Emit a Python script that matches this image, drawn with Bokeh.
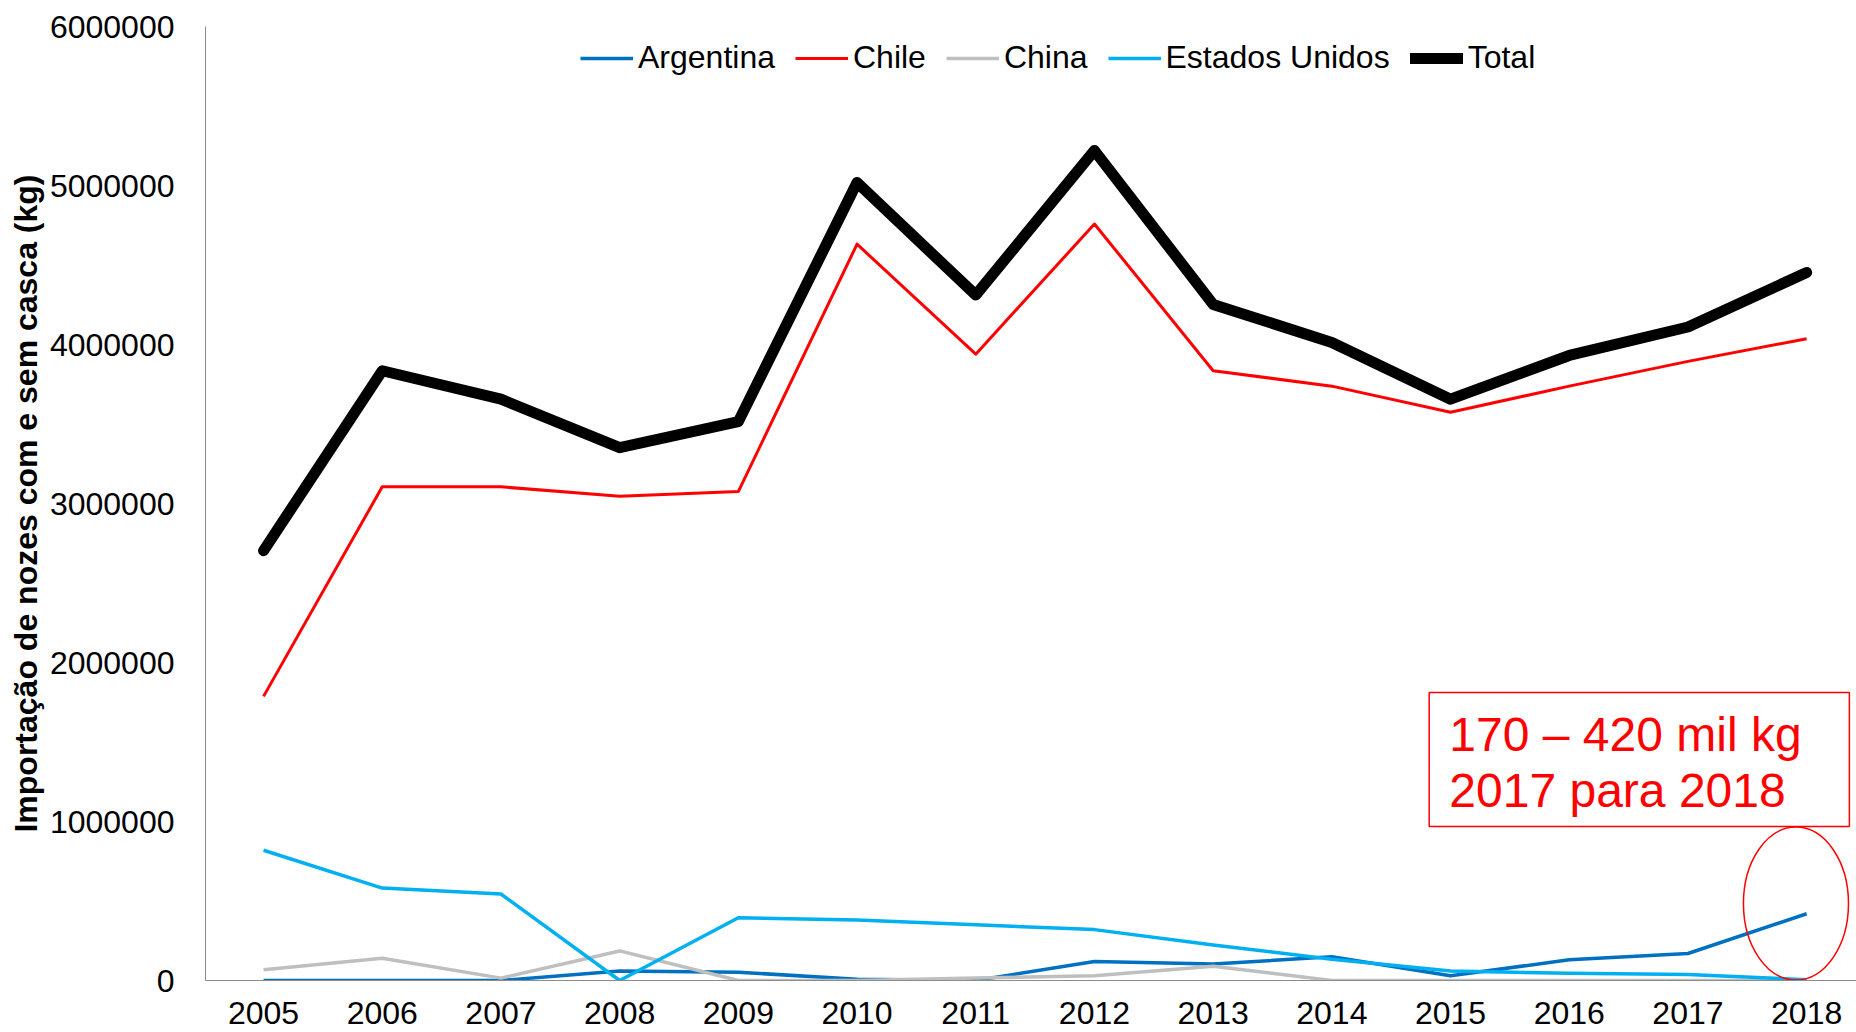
from bokeh.plotting import figure
from bokeh.models import (ColumnDataSource, Legend, LegendItem, FixedTicker,
                          BasicTickFormatter, Range1d, BoxAnnotation)
from bokeh.core.properties import value
from bokeh.embed import file_html
from bokeh.resources import INLINE

years = [2005, 2006, 2007, 2008, 2009, 2010, 2011, 2012, 2013, 2014, 2015, 2016, 2017, 2018]

argentina = [0, 0, 0, 60000, 52000, 8000, 0, 120000, 104000, 149000, 30000, 130000, 170000, 420000]
chile = [1787000, 3105000, 3105000, 3045000, 3075000, 4631000, 3939000, 4758000,
         3835000, 3738000, 3574000, 3738000, 3894000, 4036000]
china = [67000, 140000, 15000, 186000, 0, 0, 15000, 30000, 90000, 0, 0, 0, 0, 0]
estados_unidos = [819000, 581000, 544000, 0, 395000, 380000, 350000, 320000,
                  223000, 134000, 60000, 45000, 37000, 5000]
total = [2703000, 3835000, 3656000, 3351000, 3515000, 5019000, 4311000, 5220000,
         4252000, 4013000, 3656000, 3931000, 4110000, 4453000]

series_names = ["Argentina", "Chile", "China", "Estados Unidos", "Total"]
series_values = [argentina, chile, china, estados_unidos, total]
series_colors = ["#0070C0", "#FF0000", "#BFBFBF", "#00B0F0", "#000000"]
series_widths = [3.5, 3, 3.5, 3.5, 11]

y_ticks = [0, 1000000, 2000000, 3000000, 4000000, 5000000, 6000000]

annotation_lines = ["170 \u2013 420 mil kg", "2017 para 2018"]
annotation_text_x = [2014.99, 2014.99]
annotation_text_y = [1547000, 1195000]
box_left, box_right, box_bottom, box_top = 2014.82, 2018.36, 969000, 1811000
ellipse_x, ellipse_y, ellipse_w, ellipse_h = 2017.91, 484000, 0.885, 962000

FONT = "Liberation Sans"

p = figure(width=1856, height=1030, output_backend="svg", toolbar_location=None,
           x_range=Range1d(2004.511, 2018.42), y_range=Range1d(0, 6000000),
           min_border_left=205, min_border_right=0, min_border_top=26,
           min_border_bottom=50)
p.outline_line_color = None
p.xgrid.visible = False
p.ygrid.visible = False
p.background_fill_color = "white"
p.border_fill_color = "white"

renderers = []
for name, vals, col, lw in zip(series_names, series_values, series_colors, series_widths):
    src = ColumnDataSource(dict(x=years, y=vals))
    cap = "round" if name == "Total" else "butt"
    r = p.line("x", "y", source=src, line_color=col, line_width=lw,
               line_join="round", line_cap=cap)
    renderers.append((name, r))

# annotations
box = BoxAnnotation(left=box_left, right=box_right, bottom=box_bottom, top=box_top,
                    fill_alpha=0, line_color="#FF0000", line_alpha=1.0,
                    line_width=1.5)
p.add_layout(box)
p.text(x=annotation_text_x, y=annotation_text_y, text=annotation_lines,
       text_font=value(FONT), text_font_size="48px", text_color="#FF0000",
       text_align="left", text_baseline="middle")
p.ellipse(x=[ellipse_x], y=[ellipse_y], width=[ellipse_w], height=[ellipse_h],
          fill_color=None, line_color="#FF0000", line_width=1.5)

# axes
p.xaxis.ticker = FixedTicker(ticks=years)
p.yaxis.ticker = FixedTicker(ticks=y_ticks)
p.yaxis.formatter = BasicTickFormatter(use_scientific=False)
for ax in (p.xaxis[0], p.yaxis[0]):
    ax.axis_line_color = "#8C8C8C"
    ax.axis_line_width = 1
    ax.major_tick_line_color = None
    ax.minor_tick_line_color = None
    ax.major_label_text_font = FONT
    ax.major_label_text_font_size = "32px"
    ax.major_label_text_color = "black"
p.xaxis.major_label_standoff = 15
p.yaxis.major_label_standoff = 25
p.yaxis.axis_label = "Importação de nozes com e sem casca (kg)"
p.yaxis.axis_label_text_font = FONT
p.yaxis.axis_label_text_font_style = "bold"
p.yaxis.axis_label_text_font_size = "32px"
p.yaxis.axis_label_text_color = "black"
p.yaxis.axis_label_standoff = 3

legend = Legend(items=[LegendItem(label=n, renderers=[r]) for n, r in renderers],
                orientation="horizontal", location=(375, 904),
                label_text_font=FONT, label_text_font_size="32px",
                label_text_color="black",
                glyph_width=53, glyph_height=36, label_height=36,
                label_standoff=5, spacing=20, padding=0, margin=0,
                border_line_color=None, background_fill_alpha=0)
p.add_layout(legend, "center")

open("out.html", "w").write(file_html(p, INLINE))
